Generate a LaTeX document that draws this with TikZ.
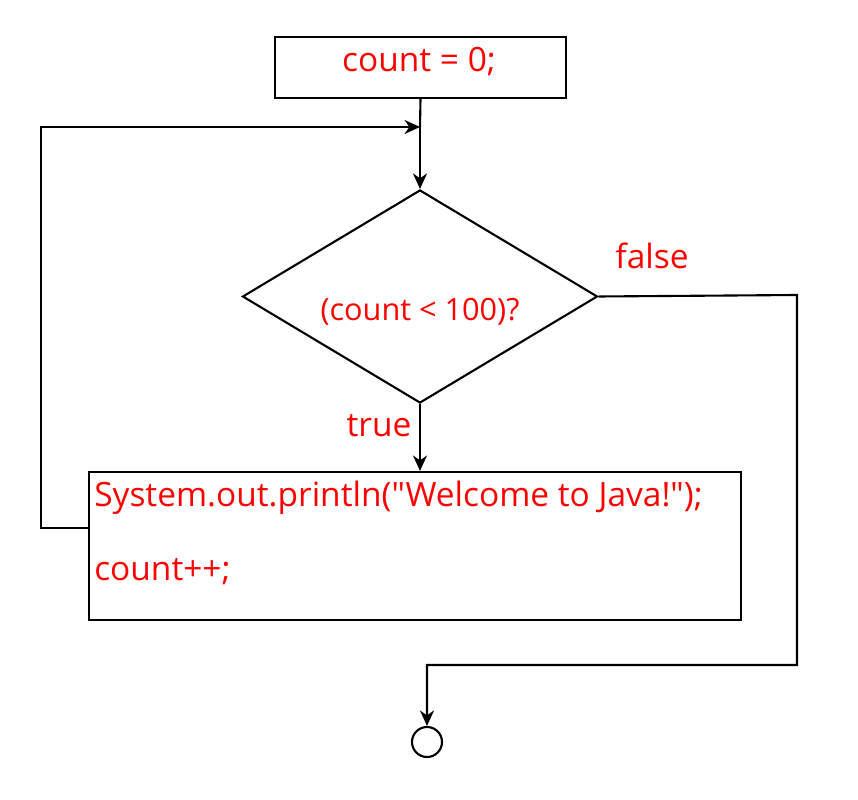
\documentclass[tikz,border=0pt]{standalone}
\usepackage{fontspec}
\setmainfont{Open Sans}[Ligatures=TeXOff]
\usepackage{tikz}
\usetikzlibrary{shapes.geometric, arrows.meta, positioning}
\definecolor{CodeRed}{HTML}{FF0000}

\begin{document}
\begin{tikzpicture}[
  x=0.025cm, y=-0.025cm,
  box/.style={rectangle, draw=black, line width=1.5pt, inner sep=0pt},
  decision/.style={diamond, aspect=1.67, draw=black, line width=1.5pt, inner sep=0pt,
    minimum width=8.875cm, minimum height=5.325cm},
  code/.style={text=CodeRed, font=\fontsize{23.8}{28}\selectfont, inner sep=0pt},
  wire/.style={line width=1.5pt},
  arr/.style={-{Stealth[length=11pt, width=10pt, inset=3.5pt]}, line width=1.5pt}
]
\useasboundingbox (0,0) rectangle (858,800);

\node[box, minimum width=7.275cm, minimum height=1.525cm] (init) at (420.5,67.5) {};
\node[code] (inittext) at (419,62) {count = 0;};
\node[decision] (cond) at (420,296.5)
  {\raisebox{-11pt}[\height][\depth]{\textcolor{CodeRed}{\fontsize{21.8}{26}\selectfont (count < 100)?}}};
\node[box, minimum width=16.3cm, minimum height=3.7cm] (body) at (415,546) {};
\node[code, anchor=base west] (printline) at (94,507) {System.out.println("Welcome to Java!");};
\node[code, anchor=base west] (countline) at (94,581) {count++;};
\node[circle, draw=black, line width=1.5pt, minimum size=0.75cm, inner sep=0pt] (stop) at (427,742) {};

\node[code] (falselbl) at (652,256) {false};
\node[code] (truelbl) at (379,426) {true};

\coordinate (join) at (420,127);

% Arrows
\draw[wire] (init.south) -- (join);
\draw[arr] (join) -- (cond.north);
\draw[arr] (cond.south) -- (cond.south |- body.north);
\draw[arr] (body.west |- 0,528) -- (41,528) |- (join);
\draw[arr] (cond.east) -- (797,295) |- (stop.north |- 0,665) -- (stop.north);

\end{tikzpicture}
\end{document}
